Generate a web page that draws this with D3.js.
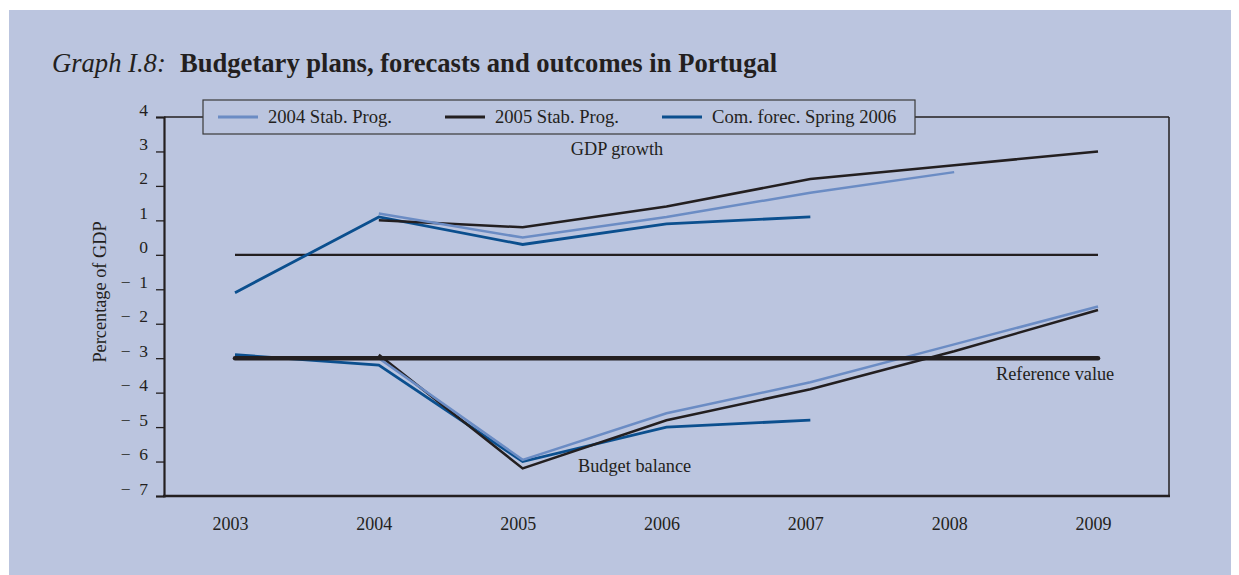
<!DOCTYPE html>
<html>
<head>
<meta charset="utf-8">
<script src="https://cdn.jsdelivr.net/npm/d3@7"></script>
<style>
  html, body { margin: 0; padding: 0; background: #ffffff; }
  svg { display: block; }
  text { font-family: "Liberation Serif", "Times New Roman", serif; fill: #231f20; }
</style>
</head>
<body>
<svg id="chart" width="1239" height="575"></svg>
<script>
// ---- data ----
const years = [2003, 2004, 2005, 2006, 2007, 2008, 2009];
const yTicks = [4, 3, 2, 1, 0, -1, -2, -3, -4, -5, -6, -7];
const seriesNames = ["2004 Stab. Prog.", "2005 Stab. Prog.", "Com. forec. Spring 2006"];
// GDP growth
const gdp2004SP = [null, 1.2, 0.5, 1.1, 1.8, 2.4, null];
const gdp2005SP = [null, 1.0, 0.8, 1.4, 2.2, 2.6, 3.0];
const gdpCom    = [-1.1, 1.1, 0.3, 0.9, 1.1, null, null];
// Budget balance
const bb2004SP  = [null, -3.0, -5.95, -4.6, -3.7, -2.6, -1.5];
const bb2005SP  = [null, -2.9, -6.2, -4.8, -3.9, -2.8, -1.6];
const bbCom     = [-2.9, -3.2, -6.0, -5.0, -4.8, null, null];
const referenceValue = -3;

// ---- layout ----
const svg = d3.select("#chart");
const colors = ["#6b8cc4", "#231f20", "#0b4f8e"];
const bg = "#bbc5df";

svg.append("rect").attr("x", 9).attr("y", 10).attr("width", 1222).attr("height", 565).attr("fill", bg);

const x = d3.scaleLinear().domain([2003, 2009]).range([235, 1098]);
const y = d3.scaleLinear().domain([-7, 4]).range([496, 117]);
const plotLeft = 164, plotRight = 1169;

// Title
const title = svg.append("text").attr("x", 52).attr("y", 72).style("font-size", "26.6px");
title.append("tspan").style("font-style", "italic").text("Graph I.8:");
title.append("tspan").attr("x", 180).style("font-weight", "bold").text("Budgetary plans, forecasts and outcomes in Portugal");

// Frame: top & right thin
svg.append("line").attr("x1", plotLeft).attr("x2", plotRight).attr("y1", y(4)).attr("y2", y(4))
  .attr("stroke", "#231f20").attr("stroke-width", 1.3);
svg.append("line").attr("x1", plotRight).attr("x2", plotRight).attr("y1", y(4)).attr("y2", y(-7))
  .attr("stroke", "#231f20").attr("stroke-width", 1.5);

// Y axis
const yAxis = d3.axisLeft(y).tickValues(yTicks).tickSize(8).tickFormat(() => "");
const gy = svg.append("g").attr("transform", `translate(${plotLeft},0)`).call(yAxis);
gy.select(".domain").attr("stroke", "#231f20").attr("stroke-width", 2.2);
gy.selectAll(".tick line").attr("stroke", "#231f20").attr("stroke-width", 1.3);
gy.selectAll(".tick").append("text")
  .attr("x", -16).attr("y", -2)
  .attr("text-anchor", "end")
  .style("font-size", "17.5px")
  .text(d => d < 0 ? "\u2212\u2002" + Math.abs(d) : String(d));

// X axis
const xAxis = d3.axisBottom(x).tickValues(years).tickSize(0).tickFormat(() => "");
const gx = svg.append("g").attr("transform", `translate(0,${y(-7)})`).call(xAxis);
gx.select(".domain").remove();
svg.append("line").attr("x1", plotLeft - 1).attr("x2", plotRight + 1).attr("y1", y(-7)).attr("y2", y(-7))
  .attr("stroke", "#231f20").attr("stroke-width", 2.5);
gx.selectAll(".tick").append("text")
  .attr("x", -5).attr("y", 34)
  .attr("text-anchor", "middle")
  .style("font-size", "18px")
  .text(d => d);

// Zero line
svg.append("line").attr("x1", x(2003)).attr("x2", x(2009)).attr("y1", y(0)).attr("y2", y(0))
  .attr("stroke", "#231f20").attr("stroke-width", 2.2);

// Series
const line = d3.line().defined(d => d.v !== null).x(d => x(d.year)).y(d => y(d.v));
const toPts = arr => arr.map((v, i) => ({ year: years[i], v }));
const drawSeries = [
  { data: gdpCom, c: 2 }, { data: bbCom, c: 2 },
  { data: gdp2005SP, c: 1 }, { data: bb2005SP, c: 1 },
  { data: gdp2004SP, c: 0 }, { data: bb2004SP, c: 0 }
];
drawSeries.forEach(s => {
  svg.append("path").datum(toPts(s.data)).attr("d", line)
    .attr("fill", "none").attr("stroke", colors[s.c]).attr("stroke-width", s.c === 2 ? 2.8 : 2.5)
    .attr("stroke-linejoin", "miter");
});

// Reference value line
svg.append("line").attr("x1", x(2003)).attr("x2", x(2009)).attr("y1", y(referenceValue)).attr("y2", y(referenceValue))
  .attr("stroke", "#231f20").attr("stroke-width", 4.5).attr("stroke-linecap", "round");

// Annotations
svg.append("text").attr("x", 617).attr("y", 155).attr("text-anchor", "middle").style("font-size", "18.3px").text("GDP growth");
svg.append("text").attr("x", 578).attr("y", 472).style("font-size", "18.3px").text("Budget balance");
svg.append("text").attr("x", 996).attr("y", 380).style("font-size", "18.3px").text("Reference value");

// Legend
const lg = svg.append("g");
lg.append("rect").attr("x", 203).attr("y", 100).attr("width", 712).attr("height", 34)
  .attr("fill", bg).attr("stroke", "#3a3a3a").attr("stroke-width", 1.2);
const legendX = [218, 445, 662];
seriesNames.forEach((name, i) => {
  lg.append("line").attr("x1", legendX[i]).attr("x2", legendX[i] + 40).attr("y1", 117).attr("y2", 117)
    .attr("stroke", colors[i]).attr("stroke-width", 2.8);
  lg.append("text").attr("x", legendX[i] + 50).attr("y", 123).style("font-size", "18.6px").text(name);
});

// Y axis title
svg.append("text").attr("transform", "translate(106,292) rotate(-90)")
  .attr("text-anchor", "middle").style("font-size", "18.3px").text("Percentage of GDP");
</script>
</body>
</html>
